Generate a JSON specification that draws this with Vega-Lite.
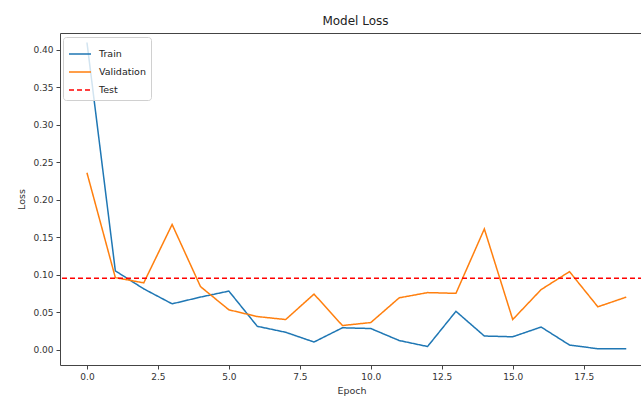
{
  "$schema": "https://vega.github.io/schema/vega-lite/v6.json",
  "width": 583,
  "height": 332,
  "autosize": {"type": "none"},
  "padding": {"left": 60, "top": 33, "right": 0, "bottom": 33},
  "background": "white",
  "title": {"text": "Model Loss", "fontSize": 12, "font": "DejaVu Sans", "fontWeight": "normal", "color": "#222", "offset": 5, "anchor": "middle", "dx": 4},
  "config": {
    "view": {"stroke": "#444", "strokeWidth": 1},
    "font": "DejaVu Sans",
    "axis": {"grid": false, "domain": false, "tickColor": "#444", "tickSize": 4, "labelFontSize": 9, "labelColor": "#333", "titleFontSize": 9.5, "titleColor": "#333", "titleFontWeight": "normal", "labelPadding": 3}
  },
  "datasets": {
    "curves": [
      {"epoch": 0, "loss": 0.41, "series": "Train"},
      {"epoch": 1, "loss": 0.105, "series": "Train"},
      {"epoch": 2, "loss": 0.081, "series": "Train"},
      {"epoch": 3, "loss": 0.061, "series": "Train"},
      {"epoch": 4, "loss": 0.07, "series": "Train"},
      {"epoch": 5, "loss": 0.078, "series": "Train"},
      {"epoch": 6, "loss": 0.031, "series": "Train"},
      {"epoch": 7, "loss": 0.023, "series": "Train"},
      {"epoch": 8, "loss": 0.01, "series": "Train"},
      {"epoch": 9, "loss": 0.029, "series": "Train"},
      {"epoch": 10, "loss": 0.028, "series": "Train"},
      {"epoch": 11, "loss": 0.012, "series": "Train"},
      {"epoch": 12, "loss": 0.004, "series": "Train"},
      {"epoch": 13, "loss": 0.051, "series": "Train"},
      {"epoch": 14, "loss": 0.018, "series": "Train"},
      {"epoch": 15, "loss": 0.017, "series": "Train"},
      {"epoch": 16, "loss": 0.03, "series": "Train"},
      {"epoch": 17, "loss": 0.006, "series": "Train"},
      {"epoch": 18, "loss": 0.001, "series": "Train"},
      {"epoch": 19, "loss": 0.001, "series": "Train"},
      {"epoch": 0, "loss": 0.236, "series": "Validation"},
      {"epoch": 1, "loss": 0.096, "series": "Validation"},
      {"epoch": 2, "loss": 0.089, "series": "Validation"},
      {"epoch": 3, "loss": 0.167, "series": "Validation"},
      {"epoch": 4, "loss": 0.084, "series": "Validation"},
      {"epoch": 5, "loss": 0.053, "series": "Validation"},
      {"epoch": 6, "loss": 0.044, "series": "Validation"},
      {"epoch": 7, "loss": 0.04, "series": "Validation"},
      {"epoch": 8, "loss": 0.074, "series": "Validation"},
      {"epoch": 9, "loss": 0.032, "series": "Validation"},
      {"epoch": 10, "loss": 0.036, "series": "Validation"},
      {"epoch": 11, "loss": 0.069, "series": "Validation"},
      {"epoch": 12, "loss": 0.076, "series": "Validation"},
      {"epoch": 13, "loss": 0.075, "series": "Validation"},
      {"epoch": 14, "loss": 0.161, "series": "Validation"},
      {"epoch": 15, "loss": 0.04, "series": "Validation"},
      {"epoch": 16, "loss": 0.08, "series": "Validation"},
      {"epoch": 17, "loss": 0.104, "series": "Validation"},
      {"epoch": 18, "loss": 0.057, "series": "Validation"},
      {"epoch": 19, "loss": 0.07, "series": "Validation"}
    ],
    "test": [
      {"loss": 0.095, "series": "Test"}
    ]
  },
  "encoding": {
    "color": {
      "field": "series", "type": "nominal",
      "scale": {"domain": ["Train", "Validation", "Test"], "range": ["#1f77b4", "#ff7f0e", "#ff0000"]},
      "legend": {"title": null, "orient": "none", "legendX": 3, "legendY": 4, "symbolType": "stroke", "symbolSize": 484, "symbolStrokeWidth": 1.5, "labelFontSize": 9.5, "labelColor": "#222", "fillColor": "rgba(255,255,255,0.8)", "strokeColor": "#d0d0d0", "padding": 5, "cornerRadius": 3, "rowPadding": 1, "labelOffset": 7}
    },
    "strokeDash": {
      "field": "series", "type": "nominal",
      "scale": {"domain": ["Train", "Validation", "Test"], "range": [[1, 0], [1, 0], [5, 3]]},
      "legend": {"title": null}
    }
  },
  "layer": [
    {
      "data": {"name": "curves"},
      "mark": {"type": "line", "strokeWidth": 1.5},
      "encoding": {
        "x": {"field": "epoch", "type": "quantitative", "title": "Epoch", "scale": {"domain": [-0.95, 19.59], "nice": false, "zero": false}, "axis": {"values": [0, 2.5, 5, 7.5, 10, 12.5, 15, 17.5], "format": ".1f", "titlePadding": 4}},
        "y": {"field": "loss", "type": "quantitative", "title": "Loss", "scale": {"domain": [-0.0207, 0.4227], "nice": false, "zero": false}, "axis": {"values": [0, 0.05, 0.1, 0.15, 0.2, 0.25, 0.3, 0.35, 0.4], "format": ".2f", "titlePadding": 6}}
      }
    },
    {
      "data": {"name": "test"},
      "mark": {"type": "rule", "strokeWidth": 1.5},
      "encoding": {
        "y": {"field": "loss", "type": "quantitative"}
      }
    }
  ]
}
